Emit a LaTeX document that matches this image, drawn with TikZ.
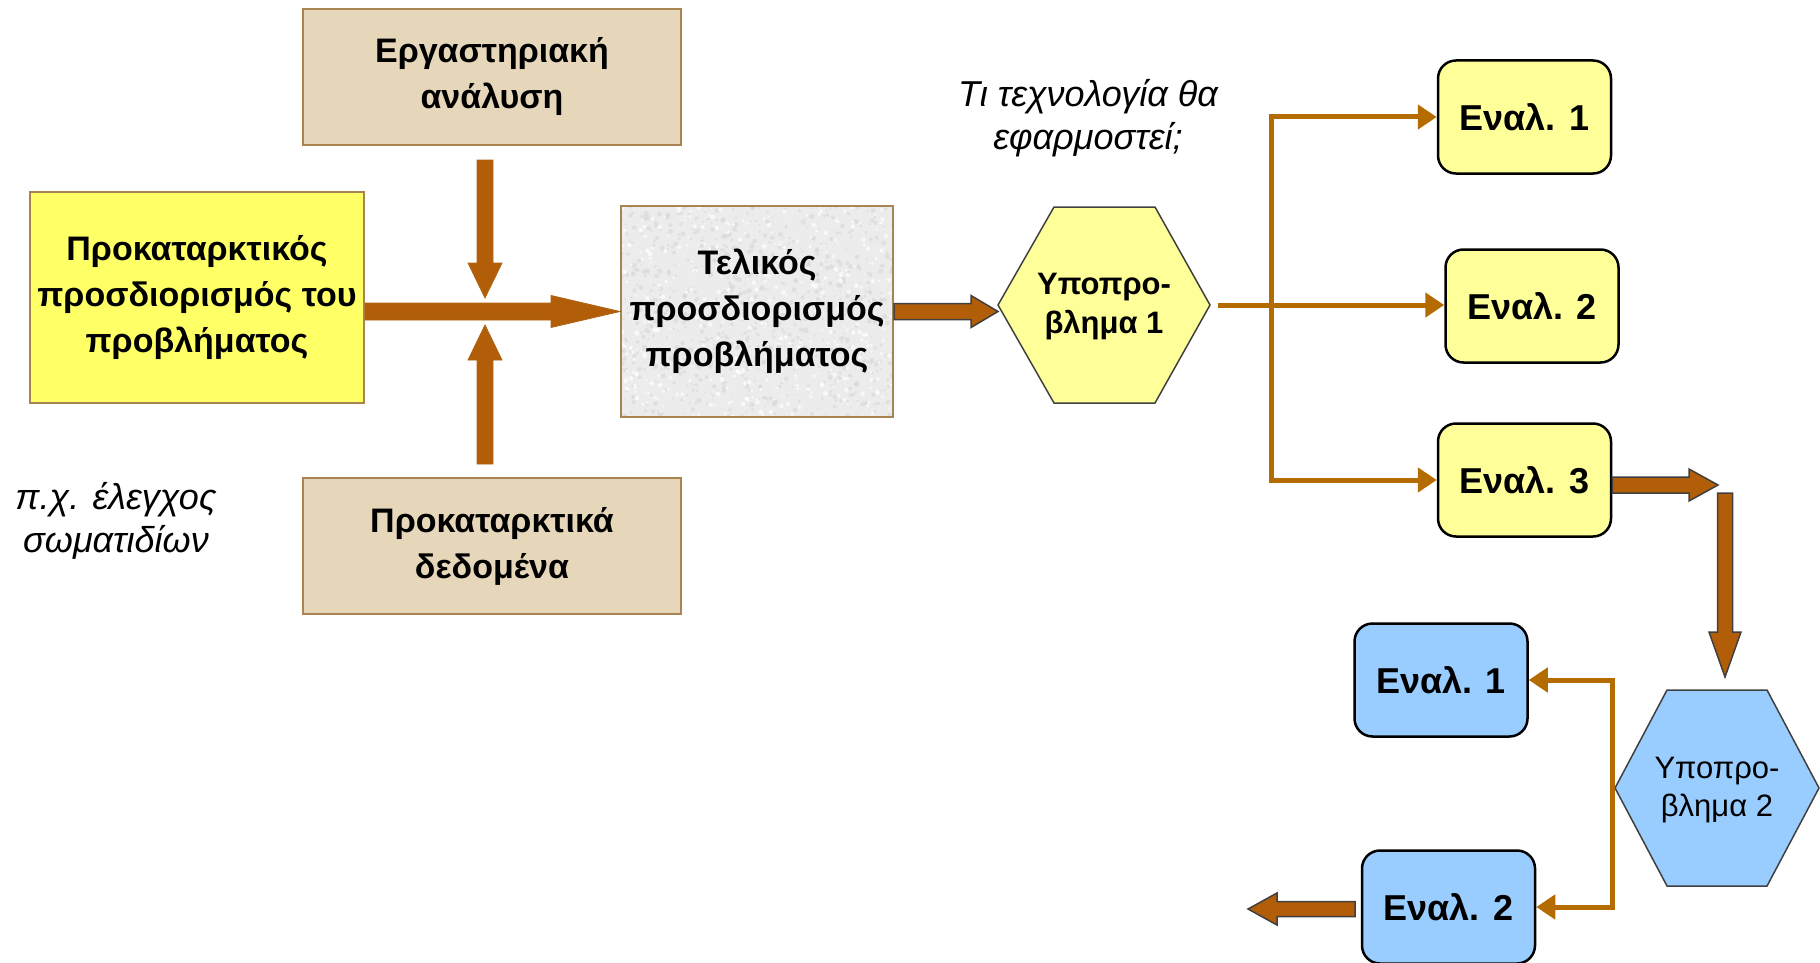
\documentclass[tikz,border=0pt]{standalone}
\usepackage{fontspec}
\setmainfont{Liberation Sans}
\usetikzlibrary{calc,arrows.meta}
\definecolor{arrowbrown}{RGB}{178,94,8}
\definecolor{thinbrown}{RGB}{180,107,0}
\definecolor{outlinegray}{RGB}{64,64,64}
\definecolor{tanfill}{RGB}{230,214,186}
\definecolor{boxborder}{RGB}{168,132,80}
\definecolor{brightyellow}{RGB}{255,255,102}
\definecolor{paleyellow}{RGB}{255,255,153}
\definecolor{paleblue}{RGB}{153,204,255}
\definecolor{texturebase}{RGB}{236,236,236}

% horizontal block arrow: [style]{from}{to}{half shaft}{half head}{head length}
\newcommand\harrow[6][]{\filldraw[#1] let \p1=(#2), \p2=(#3), \n1={sign(\x2-\x1)} in
  (\x1,\y1+#4) -- ({\x2-(\n1)*#6},\y1+#4) -- ({\x2-(\n1)*#6},\y1+#5) -- (\x2,\y1)
  -- ({\x2-(\n1)*#6},\y1-#5) -- ({\x2-(\n1)*#6},\y1-#4) -- (\x1,\y1-#4) -- cycle;}
% vertical block arrow
\newcommand\varrow[6][]{\filldraw[#1] let \p1=(#2), \p2=(#3), \n1={sign(\y2-\y1)} in
  (\x1+#4,\y1) -- (\x1+#4,{\y2-(\n1)*#6}) -- (\x1+#5,{\y2-(\n1)*#6}) -- (\x1,\y2)
  -- (\x1-#5,{\y2-(\n1)*#6}) -- (\x1-#4,{\y2-(\n1)*#6}) -- (\x1-#4,\y1) -- cycle;}

\tikzset{
  boxfont/.style={font=\fontsize{34}{46}\selectfont\bfseries},
  tanbox/.style={boxfont, draw=boxborder, line width=2pt, fill=tanfill,
    minimum width=378pt, minimum height=136pt, inner sep=0pt, align=center},
  yelbox/.style={boxfont, draw=boxborder, line width=2pt, fill=brightyellow,
    minimum width=334pt, minimum height=211pt, inner sep=0pt, align=center},
  finbox/.style={boxfont, draw=boxborder, line width=2pt,
    minimum width=272pt, minimum height=211pt, inner sep=0pt, align=center},
  evalbox/.style={font=\fontsize{36}{44}\selectfont\bfseries, draw=black, line width=2.5pt,
    rounded corners=18pt, minimum width=173pt, minimum height=113pt, inner sep=0pt},
  evalY/.style={evalbox, fill=paleyellow},
  evalB/.style={evalbox, fill=paleblue},
  hexshape/.style={draw=outlinegray, line width=1.5pt},
  hexlabelA/.style={font=\fontsize{31}{39}\selectfont\bfseries, align=center, inner sep=0pt},
  hexlabelB/.style={font=\fontsize{31}{38}\selectfont, align=center, inner sep=0pt},
  note/.style={font=\fontsize{36}{43}\selectfont\itshape, align=center, inner sep=0pt},
  mainarrow/.style={fill=arrowbrown, draw=arrowbrown!85!boxborder, line width=0.8pt},
  outarrow/.style={fill=arrowbrown, draw=outlinegray, line width=1.5pt, line join=miter},
  fan/.style={draw=thinbrown, line width=5pt, line join=miter,
    -{Triangle[width=24pt,length=19pt]}},
  fanboth/.style={draw=thinbrown, line width=5pt, line join=miter,
    {Triangle[width=24pt,length=19pt]}-{Triangle[width=24pt,length=19pt]}},
}

\begin{document}
\begin{tikzpicture}[x=1pt, y=-1pt]
\useasboundingbox (0,0) rectangle (1820,963);

% textured background of the final box
\begin{scope}
  \fill[texturebase] (621,206) rectangle (893,417);
  \clip (621,206) rectangle (893,417);
  \pgfmathsetseed{11}
  \foreach \i in {1,...,900}{
    \fill[gray!32, opacity=0.55] ({621+rnd*272},{206+rnd*211}) circle ({0.8+rnd*1.8});
  }
  \foreach \i in {1,...,500}{
    \fill[white, opacity=0.7] ({621+rnd*272},{206+rnd*211}) circle ({0.8+rnd*1.6});
  }
\end{scope}

% boxes
\node[tanbox] (lab) at (492,77) {Εργαστηριακή\\ανάλυση};
\node[yelbox] (pre) at (197,297.5) {Προκαταρκτικός\\προσδιορισμός του\\προβλήματος};
\node[tanbox] (data) at (492,546) {Προκαταρκτικά\\δεδομένα};
\node[finbox] (fin) at (757,311.5) {Τελικός\\προσδιορισμός\\προβλήματος};

% hexagon 1
\coordinate (h1w) at (998,305);
\coordinate (h1e) at (1210,305);
\draw[hexshape, fill=paleyellow] (1054,207) -- (1155,207) -- (h1e) -- (1155,403) -- (1054,403) -- (h1w) -- cycle;
\node[hexlabelA] (h1) at (1104,307) {Υποπρο-\\βλημα 1};

% hexagon 2
\coordinate (h2w) at (1615,788);
\coordinate (h2e) at (1819,788);
\draw[hexshape, fill=paleblue] (1667,690) -- (1767,690) -- (h2e) -- (1767,886) -- (1667,886) -- (h2w) -- cycle;
\node[hexlabelB] (h2) at (1717,790) {Υποπρο-\\βλημα 2};

% alternatives
\node[evalY] (y1) at (1524.5,117) {Εναλ. 1};
\node[evalY] (y2) at (1532,306) {Εναλ. 2};
\node[evalY] (y3) at (1524.5,480) {Εναλ. 3};
\node[evalB] (b1) at (1441,680) {Εναλ. 1};
\node[evalB] (b2) at (1448.5,907) {Εναλ. 2};

% notes
\node[note] (q) at (1088,118) {Τι τεχνολογία θα\\εφαρμοστεί;};
\node[note] (ex) at (116,521) {π.χ. έλεγχος\\σωματιδίων};

% thick arrows, left part
\harrow[mainarrow]{pre.east |- fin.west}{fin.west}{8.5pt}{16pt}{69pt}
\coordinate (dtop) at (485,160);
\coordinate (dtip) at (485,298);
\varrow[mainarrow]{dtop}{dtip}{8pt}{17pt}{35pt}
\coordinate (ubot) at (485,464);
\coordinate (utip) at (485,325);
\varrow[mainarrow]{ubot}{utip}{8pt}{17pt}{35pt}

% final box to hexagon 1
\harrow[outarrow]{fin.east}{h1w |- fin.east}{8pt}{16pt}{27pt}

% fan from hexagon 1
\coordinate (h1out) at (1218,305);
\coordinate (j1) at (1271,305);
\draw[fan] (h1out) -- (h1out -| y2.west);
\draw[fanboth] (y1.west) -- (y1.west -| j1) -- (y3.west -| j1) -- (y3.west);

% alternative 3 onwards
\coordinate (r3tip) at (1718,485);
\harrow[outarrow]{y3.east |- r3tip}{r3tip}{8pt}{16pt}{29pt}
\coordinate (d2top) at (1725,493);
\coordinate (d2tip) at (1725,677);
\varrow[outarrow]{d2top}{d2tip}{7.5pt}{16pt}{45pt}

% fan from hexagon 2
\coordinate (j2) at (1612,788);
\draw[fanboth] (b1.east) -- (b1.east -| j2) -- (b2.east -| j2) -- (b2.east);

% leaving arrow
\coordinate (lstart) at (1355,909);
\coordinate (ltip) at (1248,909);
\harrow[outarrow]{lstart}{ltip}{7.5pt}{16pt}{29pt}
\end{tikzpicture}
\end{document}
